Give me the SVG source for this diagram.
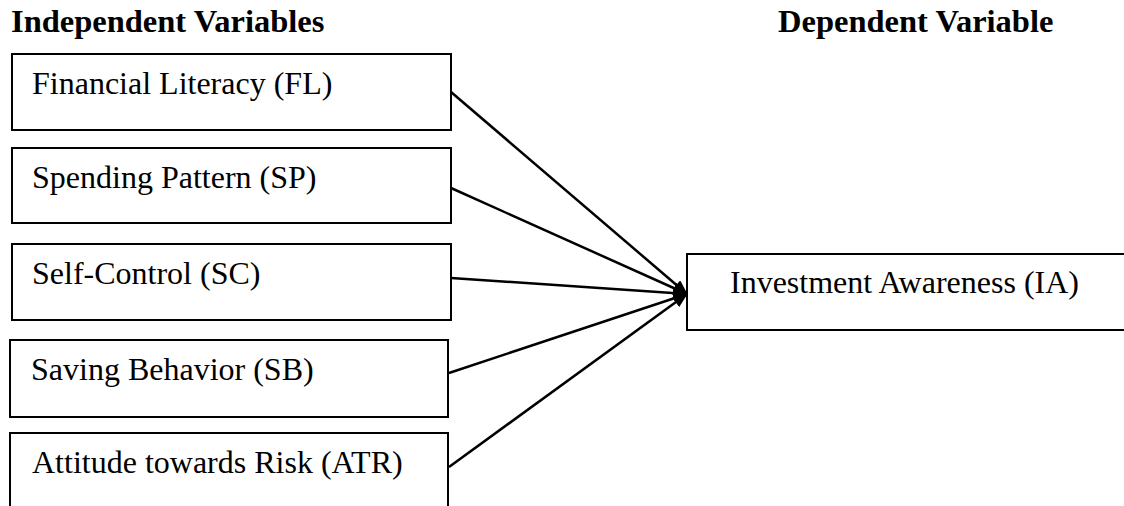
<svg xmlns="http://www.w3.org/2000/svg" width="1124" height="506" viewBox="0 0 1124 506">
<style>
.box{fill:#fff;stroke:#000;stroke-width:2}
.lbl{font-family:"Liberation Serif","Times New Roman",serif;font-size:32px;fill:#000}
.hdr{font-family:"Liberation Serif","Times New Roman",serif;font-size:32.5px;font-weight:bold;fill:#000}
.conn{stroke:#000;stroke-width:2.5;fill:none}
</style>
<defs>
<marker id="ah" markerWidth="15" markerHeight="12" refX="14" refY="6" orient="auto" markerUnits="userSpaceOnUse">
<path d="M0,0 L15,6 L0,12 z" fill="#000"/>
</marker>
</defs>
<rect width="1124" height="506" fill="#fff"/>
<g id="headers">
<text class="hdr" x="11" y="32">Independent Variables</text>
<text class="hdr" x="778" y="32">Dependent Variable</text>
</g>
<g id="connectors">
<line class="conn" x1="451" y1="92" x2="687" y2="294" marker-end="url(#ah)"/>
<line class="conn" x1="451" y1="188" x2="687" y2="294" marker-end="url(#ah)"/>
<line class="conn" x1="451" y1="278" x2="687" y2="294" marker-end="url(#ah)"/>
<line class="conn" x1="449" y1="373" x2="687" y2="294" marker-end="url(#ah)"/>
<line class="conn" x1="449" y1="467" x2="687" y2="294" marker-end="url(#ah)"/>
</g>
<g id="node-fl">
<rect class="box" x="12" y="54" width="439" height="76"/>
<text class="lbl" x="32" y="94">Financial Literacy (FL)</text>
</g>
<g id="node-sp">
<rect class="box" x="12" y="148" width="439" height="75"/>
<text class="lbl" x="32" y="188">Spending Pattern (SP)</text>
</g>
<g id="node-sc">
<rect class="box" x="12" y="244" width="439" height="76"/>
<text class="lbl" x="32" y="284">Self-Control (SC)</text>
</g>
<g id="node-sb">
<rect class="box" x="10" y="340" width="438" height="77"/>
<text class="lbl" x="31" y="380">Saving Behavior (SB)</text>
</g>
<g id="node-atr">
<rect class="box" x="10" y="433" width="438" height="90"/>
<text class="lbl" x="32" y="473">Attitude towards Risk (ATR)</text>
</g>
<g id="node-ia">
<rect class="box" x="687" y="254" width="440" height="76"/>
<text class="lbl" x="730" y="293">Investment Awareness (IA)</text>
</g>
</svg>
